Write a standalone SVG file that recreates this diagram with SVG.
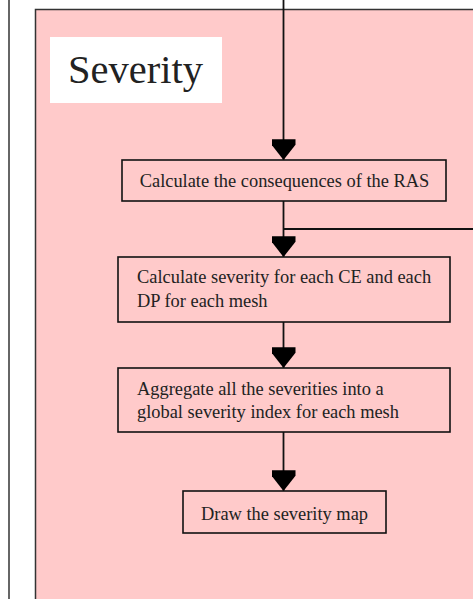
<svg xmlns="http://www.w3.org/2000/svg" width="473" height="599" viewBox="0 0 473 599">
  <style>
    .frame { fill: none; stroke: #333; stroke-width: 1.5; }
    .panel { fill: #ffcaca; stroke: #333; stroke-width: 1.5; }
    .box { fill: #ffcaca; stroke: #111; stroke-width: 1.6; }
    .label { font-family: "Liberation Serif", "Times New Roman", serif; font-size: 18.4px; fill: #222; }
    .title { font-family: "Liberation Serif", "Times New Roman", serif; font-size: 40.5px; fill: #222; }
    .wire { fill: none; stroke: #111; stroke-width: 1.8; }
  </style>
  <defs>
    <marker id="head" markerUnits="userSpaceOnUse" markerWidth="22" markerHeight="24" refX="19" refY="11" orient="auto" viewBox="0 0 20 22">
      <path d="M0,0 L5,0 L19,11 L5,22 L0,22 L0,0 Z" fill="#000"/>
    </marker>
  </defs>

  <rect width="473" height="599" fill="#fff"/>

  <!-- outer frame edge -->
  <line class="frame" x1="9" y1="0" x2="9" y2="599"/>

  <!-- shaded section panel -->
  <rect class="panel" x="35.5" y="9.5" width="450" height="600"/>

  <g id="title">
    <rect x="50" y="37" width="172" height="66" fill="#fff"/>
    <text class="title" x="68" y="83">Severity</text>
  </g>

  <g id="connectors">
    <line class="wire" x1="283.5" y1="0" x2="283.5" y2="160" marker-end="url(#head)"/>
    <line class="wire" x1="283.5" y1="201" x2="283.5" y2="257" marker-end="url(#head)"/>
    <line class="wire" x1="283.5" y1="229" x2="473" y2="229"/>
    <line class="wire" x1="283.5" y1="322" x2="283.5" y2="368" marker-end="url(#head)"/>
    <line class="wire" x1="283.5" y1="432" x2="283.5" y2="491" marker-end="url(#head)"/>
  </g>

  <g id="consequences">
    <rect class="box" x="122" y="160" width="324" height="41"/>
    <text class="label" x="284.5" y="187" text-anchor="middle">Calculate the consequences of the RAS</text>
  </g>

  <g id="severity-per-mesh">
    <rect class="box" x="118" y="257" width="332" height="65"/>
    <text class="label" x="137" y="283">Calculate severity for each CE and each</text>
    <text class="label" x="137" y="307">DP for each mesh</text>
  </g>

  <g id="aggregate">
    <rect class="box" x="118" y="368" width="332" height="64"/>
    <text class="label" x="137" y="395">Aggregate all the severities into a</text>
    <text class="label" x="137" y="418">global severity index for each mesh</text>
  </g>

  <g id="severity-map">
    <rect class="box" x="183" y="491" width="203" height="42"/>
    <text class="label" x="284.5" y="520" text-anchor="middle">Draw the severity map</text>
  </g>
</svg>
